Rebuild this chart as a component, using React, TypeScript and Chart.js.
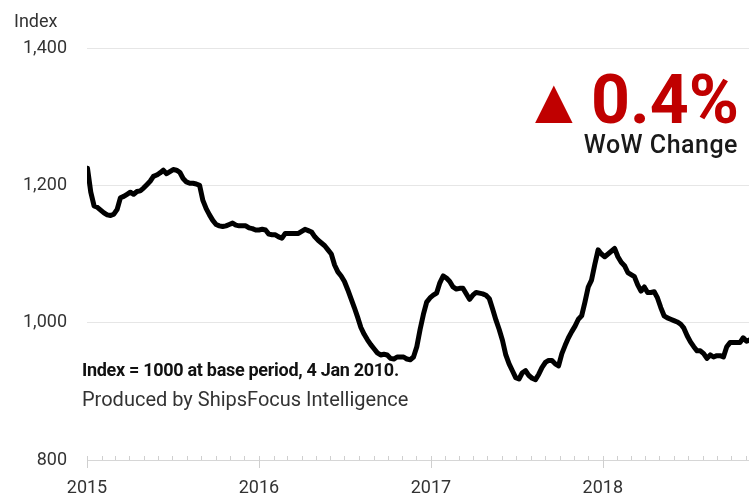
import React, { useEffect, useRef } from "react";
import { Chart, registerables } from "chart.js";

Chart.register(...registerables);

// Weekly index readings starting on the first Friday of 2015
const START_DATE = "2015-01-02";
const WEEKLY_INDEX: number[] = [
  1225, 1190, 1170, 1168, 1164, 1160, 1157, 1156, 1158, 1165,
  1182, 1184, 1187, 1190, 1187, 1191, 1192, 1196, 1201, 1206,
  1213, 1215, 1218, 1222, 1217, 1220, 1223, 1222, 1219, 1210,
  1205, 1203, 1203, 1202, 1200, 1178, 1166, 1157, 1149, 1143,
  1141, 1140, 1141, 1143, 1145, 1142, 1141, 1141, 1141, 1138,
  1137, 1135, 1135, 1136, 1135, 1129, 1128, 1128, 1125, 1123,
  1130, 1130, 1130, 1130, 1130, 1133, 1136, 1134, 1132, 1125,
  1120, 1116, 1112, 1106, 1100, 1084, 1074, 1068, 1060, 1048,
  1035, 1022, 1008, 993, 983, 975, 968, 962, 956, 953,
  954, 953, 948, 947, 950, 950, 950, 947, 946, 950,
  965, 990, 1012, 1030, 1036, 1040, 1043, 1058, 1068, 1065,
  1060, 1052, 1049, 1050, 1050, 1042, 1034, 1040, 1044, 1043,
  1042, 1040, 1035, 1020, 1004, 990, 974, 953, 940, 930,
  920, 918, 927, 930, 923, 919, 917, 925, 935, 942,
  945, 945, 940, 937, 955, 967, 978, 987, 995, 1005,
  1010, 1030, 1052, 1062, 1085, 1106, 1100, 1096, 1100, 1104,
  1108, 1096, 1088, 1083, 1073, 1070, 1067, 1055, 1046, 1052,
  1044, 1044, 1045, 1036, 1022, 1010, 1007, 1005, 1003, 1001,
  998, 992, 981, 972, 965, 959, 959, 955, 948, 953,
  950, 952, 952, 950, 965, 971, 971, 971, 971, 978,
  973, 975,
];

const YEAR_TICKS = [2015, 2016, 2017, 2018];
const Y_TICKS = [800, 1000, 1200, 1400];
const X_MIN = 2015;
const X_MAX = 2018.85;

const WOW_CHANGE = "0.4%";
const WOW_LABEL = "WoW Change";
const AXIS_TITLE = "Index";
const NOTE_1 = "Index = 1000 at base period, 4 Jan 2010.";
const NOTE_2 = "Produced by ShipsFocus Intelligence";

function toDecYear(t: number): number {
  const d = new Date(t);
  const y = d.getUTCFullYear();
  const s = Date.UTC(y, 0, 1);
  const e = Date.UTC(y + 1, 0, 1);
  return y + (t - s) / (e - s);
}

const DAY = 86400000;
const start = Date.parse(START_DATE + "T00:00:00Z");
const WEEK_X = WEEKLY_INDEX.map((_, i) => toDecYear(start + i * 7 * DAY));

const FONT = "Roboto";
const TEXT = "#333333";

const minorTicks = {
  id: "minorTicks",
  afterDraw(chart: any) {
    const xs = chart.scales.x;
    const ctx = chart.ctx;
    const yAxis = chart.chartArea.bottom;
    ctx.save();
    ctx.strokeStyle = "#cfcfcf";
    ctx.lineWidth = 1;
    for (let y = 2015; y <= 2018; y++) {
      for (let m = 0; m < 12; m++) {
        const v = toDecYear(Date.UTC(y, m, 1));
        if (v > X_MAX) continue;
        const px = Math.round(xs.getPixelForValue(v)) + 0.5;
        ctx.beginPath();
        if (m === 0) {
          ctx.moveTo(px, yAxis - 4);
          ctx.lineTo(px, yAxis + 8);
        } else {
          ctx.moveTo(px, yAxis - 4);
          ctx.lineTo(px, yAxis);
        }
        ctx.stroke();
      }
    }
    ctx.restore();
  },
};

export default function App() {
  const ref = useRef<HTMLCanvasElement | null>(null);

  useEffect(() => {
    document.body.style.margin = "0";
    if (!ref.current) return;
    const chart = new Chart(ref.current, {
      type: "line",
      data: {
        datasets: [
          {
            data: WEEKLY_INDEX.map((v, i) => ({ x: WEEK_X[i], y: v })),
            borderColor: "#000000",
            borderWidth: 5,
            pointRadius: 0,
            tension: 0,
            borderJoinStyle: "round",
            borderCapStyle: "round",
          },
        ],
      },
      options: {
        animation: false,
        responsive: false,
        maintainAspectRatio: false,
        layout: { padding: { top: 48, right: 0, bottom: 0, left: 0 } },
        plugins: { legend: { display: false }, tooltip: { enabled: false } },
        scales: {
          x: {
            type: "linear",
            min: X_MIN,
            max: X_MAX,
            afterBuildTicks: (s: any) => {
              s.ticks = YEAR_TICKS.map((v) => ({ value: v }));
            },
            afterFit: (s: any) => {
              s.height = 36;
            },
            ticks: {
              autoSkip: false,
              maxRotation: 0,
              padding: 18,
              color: TEXT,
              font: { family: FONT, size: 18 },
              callback: (v: any) => String(v),
            },
            grid: { display: true, drawOnChartArea: false, drawTicks: false },
            border: { display: true, color: "#d6d6d6", width: 1 },
          },
          y: {
            min: 800,
            max: 1400,
            afterBuildTicks: (s: any) => {
              s.ticks = Y_TICKS.map((v) => ({ value: v }));
            },
            afterFit: (s: any) => {
              s.width = 87;
            },
            ticks: {
              padding: 20,
              color: TEXT,
              font: { family: FONT, size: 18 },
              callback: (v: any) => Number(v).toLocaleString("en-US"),
            },
            grid: { color: "#e6e6e6", lineWidth: 1, drawTicks: false },
            border: { display: false },
          },
        },
      },
      plugins: [minorTicks],
    } as any);
    return () => chart.destroy();
  }, []);

  return (
    <div style={{ position: "relative", width: 749, height: 496, overflow: "hidden", background: "#fff" }}>
      <canvas ref={ref} width={749} height={496} style={{ position: "absolute", left: 0, top: 0 }} />
      <div style={{ position: "absolute", left: 14, top: 12, font: `18px ${FONT}`, lineHeight: "18px", color: TEXT, whiteSpace: "nowrap" }}>
        {AXIS_TITLE}
      </div>
      <div style={{ position: "absolute", left: 535, top: 76, font: `49px "DejaVu Sans"`, lineHeight: "49px", color: "#C00000", whiteSpace: "nowrap" }}>
        ▲
      </div>
      <div style={{ position: "absolute", right: 10, top: 66, font: `bold 68px ${FONT}`, lineHeight: "68px", color: "#C00000", whiteSpace: "nowrap" }}>
        {WOW_CHANGE}
      </div>
      <div style={{ position: "absolute", right: 11, top: 132, font: `500 25px ${FONT}`, lineHeight: "25px", letterSpacing: "0.5px", color: "#1a1a1a", whiteSpace: "nowrap" }}>
        {WOW_LABEL}
      </div>
      <div style={{ position: "absolute", left: 82, top: 361, font: `bold 18px ${FONT}`, lineHeight: "18px", letterSpacing: "-0.3px", color: "#111", whiteSpace: "nowrap" }}>
        {NOTE_1}
      </div>
      <div style={{ position: "absolute", left: 82, top: 389, font: `20px ${FONT}`, lineHeight: "20px", color: TEXT, whiteSpace: "nowrap" }}>
        {NOTE_2}
      </div>
    </div>
  );
}
